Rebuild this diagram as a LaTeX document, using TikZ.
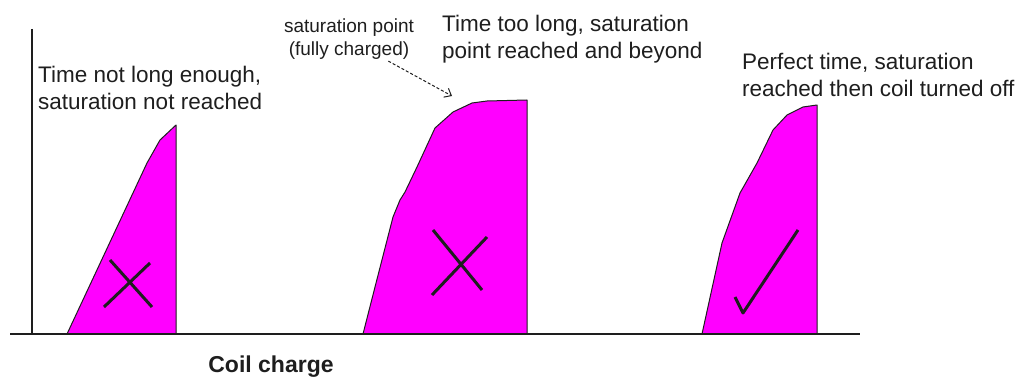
\documentclass[tikz,border=0pt]{standalone}
\usepackage{fontspec}
\setmainfont{Liberation Sans}
\usetikzlibrary{arrows.meta}
\definecolor{coilpink}{HTML}{FF00FF}
\definecolor{inkgrey}{HTML}{1E1E1E}
\tikzset{
  pulse/.style={fill=coilpink, draw=inkgrey, line width=1pt, line join=round},
  crossmark/.style={draw=inkgrey, line width=3pt},
  note/.style={font=\fontsize{22.5}{27}\selectfont, text=inkgrey, align=left, inner sep=0pt, anchor=north west}
}
\begin{document}
\begin{tikzpicture}[x=1pt, y=-1pt]
        \useasboundingbox (0,0) rectangle (1030,377);
        % Pulses
        \draw[pulse] (67,334) -- (147,163) -- (160,140) -- (176,125) -- (176,334) -- cycle;
        \draw[pulse] (363,334) -- (375,287) -- (393,217) -- (400,200) -- (405,192) -- (417,167) -- (435,128) -- (453,112) -- (472,103) -- (487,101) -- (527,100) -- (527,334) -- cycle;
        \draw[pulse] (702,334) -- (722,243) -- (740,193) -- (757,163) -- (773,130) -- (787,115) -- (803,107) -- (817,105) -- (817,334) -- cycle;
        % Axes
        \draw[inkgrey, line width=1.5pt] (32,29) -- (32,334);
        \draw[inkgrey, line width=1.5pt] (10,334) -- (860,334);
        % Marks
        \draw[crossmark] (104,307) -- (150,263) (110,260) -- (152,307);
        \draw[crossmark] (432,295) -- (487,237) (433,230) -- (482,290);
        \draw[crossmark, line join=round] (735,297) -- (743,313) -- (798,230);
        % Labels
        \node[note] (shortlbl) at (38,66) {Time not long enough,\\saturation not reached};
        \node[note] (longlbl) at (442,15) {Time too long, saturation\\point reached and beyond};
        \node[note] (goodlbl) at (742,53) {Perfect time, saturation\\reached then coil turned off};
        \node[font=\fontsize{19}{23}\selectfont, text=inkgrey, align=center, inner sep=1pt, anchor=north] (satlbl) at (349,18) {saturation point\\(fully charged)};
        \node[font=\fontsize{23}{27}\selectfont\bfseries, text=inkgrey, anchor=base] (axislbl) at (271,372) {Coil charge};
        % Pointer to saturation
        \coordinate (sattop) at (452,96);
        \draw[inkgrey, line width=1pt, densely dashed, -{Straight Barb[length=6pt, width=10pt]}] (satlbl) -- (sattop);
\end{tikzpicture}
\end{document}
